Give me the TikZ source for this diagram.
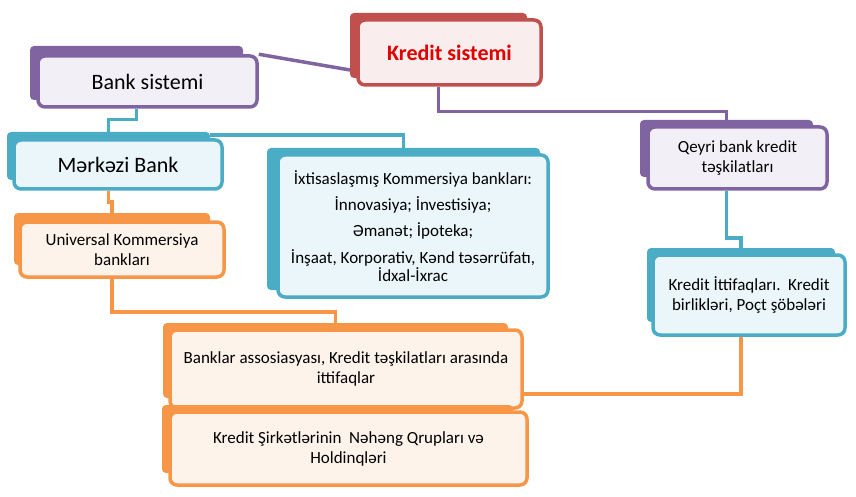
\documentclass[tikz,border=0pt]{standalone}
\usepackage{fontspec}
\setmainfont{Carlito}
\usetikzlibrary{calc}

\definecolor{kpurple}{HTML}{8064A2}
\definecolor{kred}{HTML}{C0504D}
\definecolor{kteal}{HTML}{4BACC6}
\definecolor{korange}{HTML}{F79646}
\definecolor{purplelt}{HTML}{F2F0F6}
\definecolor{redlt}{HTML}{F9EDED}
\definecolor{teallt}{HTML}{EAF6F9}
\definecolor{orangelt}{HTML}{FDF3EA}
\definecolor{redtext}{HTML}{E00000}

\tikzset{
	front/.style={draw=#1, line width=3.5pt, rounded corners=7pt, align=center, inner sep=2pt},
	back/.style={fill=#1, rounded corners=4pt, inner sep=0pt},
	conn/.style={draw=#1, line width=3.5pt},
	big/.style={font=\fontsize{22}{26}\selectfont},
	small/.style={font=\fontsize{17}{20}\selectfont}
}

\begin{document}
\begin{tikzpicture}[x=1pt, y=-1pt]
	\useasboundingbox (0,0) rectangle (856,497);

	% top row
	\draw (438.5,45.5) node[back=kred, minimum width=177pt, minimum height=65pt] (kreditb) {};
	\draw (449.5,52.5) node[front=kred, fill=redlt, minimum width=183pt, minimum height=65pt, big, text=redtext] (kredit) {\bfseries Kredit sistemi};
	\draw (136.5,73) node[back=kpurple, minimum width=213pt, minimum height=54pt] (bankb) {};
	\draw (147.5,81.5) node[front=kpurple, fill=purplelt, minimum width=219pt, minimum height=51pt, big] (bank) {Bank sistemi};

	% bank branch
	\draw (108.5,156) node[back=kteal, minimum width=203pt, minimum height=48pt] (merkb) {};
	\draw (118,164.5) node[front=kteal, fill=teallt, minimum width=208pt, minimum height=49pt, big] (merk) {Mərkəzi Bank};
	\draw (403.5,219) node[back=kteal, minimum width=273pt, minimum height=142pt] (ixtb) {};
	\draw (413,226) node[front=kteal, fill=teallt, minimum width=270pt, minimum height=142pt, font=\fontsize{17}{18}\selectfont] (ixt)
		{İxtisaslaşmış Kommersiya bankları:\\[8.5pt] İnnovasiya; İnvestisiya;\\[8pt] Əmanət; İpoteka;\\[8.5pt] İnşaat, Korporativ, Kənd təsərrüfatı,\\ İdxal-İxrac};
	\draw (112,239) node[back=korange, minimum width=196pt, minimum height=52pt] (univb) {};
	\draw (122,249.5) node[front=korange, fill=orangelt, minimum width=204pt, minimum height=55pt, small] (univ) {Universal Kommersiya\\ bankları};

	% non-bank branch
	\draw (726.5,148.5) node[back=kpurple, minimum width=173pt, minimum height=57pt] (qeyrib) {};
	\draw (737.5,158) node[front=kpurple, fill=purplelt, minimum width=179pt, minimum height=62pt, small] (qeyri) {Qeyri bank kredit\\ təşkilatları};
	\draw (741,285) node[back=kteal, minimum width=188pt, minimum height=74pt] (ittb) {};
	\draw (749,295) node[front=kteal, fill=teallt, minimum width=192pt, minimum height=80pt, small] (itt) {Kredit İttifaqları.~~Kredit\\ birlikləri, Poçt şöbələri};

	% bottom boxes
	\draw (335.5,360.5) node[back=korange, minimum width=345pt, minimum height=75pt] (banklarb) {};
	\draw (346,369) node[front=korange, fill=orangelt, minimum width=352pt, minimum height=78pt, small] (banklar) {Banklar assosiasyası, Kredit təşkilatları arasında\\ ittifaqlar};
	\draw (337.5,439) node[back=korange, minimum width=351pt, minimum height=68pt] (sirketb) {};
	\draw (348.5,448.5) node[front=korange, fill=orangelt, minimum width=357pt, minimum height=73pt, small] (sirket) {Kredit Şirkətlərinin~ Nəhəng Qrupları və\\ Holdinqləri};

	% connectors
	\coordinate (kin) at (350,70);
	\draw[conn=kpurple] (bank.north east) -- (kin);
	\draw[conn=kpurple] (kreditb |- kredit.south) -- ++(0,25) -| (qeyrib.north);
	\draw[conn=kteal] (bankb |- bank.south) -- ++(0,11) -| (merkb.north);
	\draw[conn=kteal] ($(merkb.north east)+(0,3)$) -| (ixtb.north);
	\draw[conn=korange] (merkb |- merk.south) -- ++(0,11) -| (univb.north);
	\draw[conn=korange] (univb |- univ.south) -- ++(0,33) -| (banklarb.north);
	\draw[conn=kteal] (qeyrib |- qeyri.south) -- ++(0,47) -| (ittb.north);
	\draw[conn=korange] (ittb |- itt.south) |- ($(banklar.south east)+(0,-16)$);
\end{tikzpicture}
\end{document}
